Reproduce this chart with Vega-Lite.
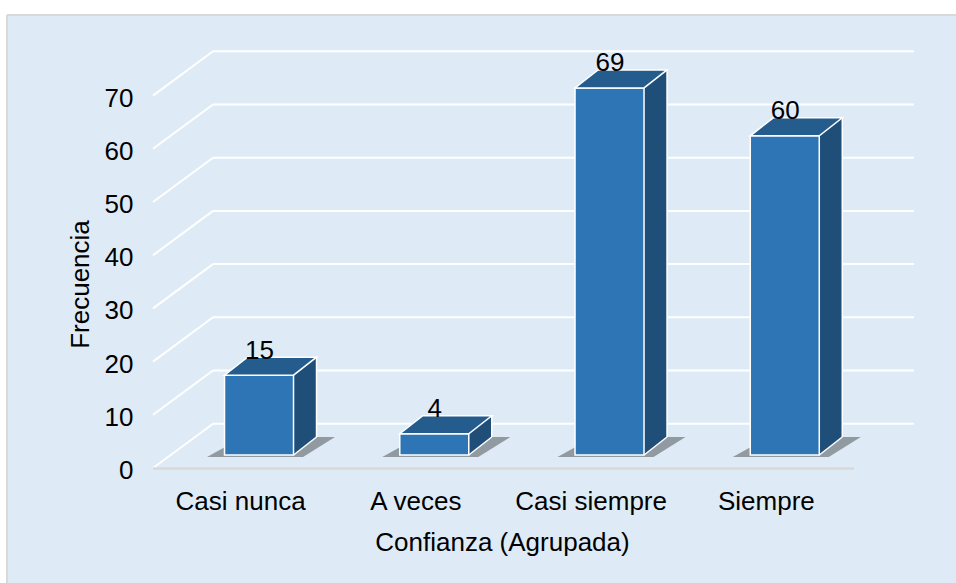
{
  "$schema": "https://vega.github.io/schema/vega-lite/v6.json",
  "width": 949,
  "height": 568,
  "autosize": "none",
  "padding": {"left": 7, "top": 15, "right": 0, "bottom": 0},
  "background": "white",
  "config": {
    "font": "Liberation Sans",
    "view": {"fill": "#DEEBF7", "stroke": "#D9D9D9", "strokeWidth": 2, "strokeDash": [949, 1517, 568, 0]},
    "axisX": {
      "title": "Confianza (Agrupada)", "offset": -74,
      "domain": false, "ticks": false, "tickSize": 0, "grid": false, "labelPadding": 0, "labelAngle": 0,
      "labelBaseline": "alphabetic", "labelFontSize": 26, "labelColor": "#000000", "labelFont": "Liberation Sans",
      "titleFontSize": 26, "titleFontWeight": "normal", "titleColor": "#000000", "titleFont": "Liberation Sans",
      "titleX": 495, "titleY": 41, "titleAlign": "center", "titleBaseline": "alphabetic"
    },
    "axisY": {
      "offset": -126,
      "domain": false, "ticks": false, "tickSize": 0, "grid": false, "labelPadding": 0,
      "labelAlign": "right", "labelBaseline": "alphabetic", "labelOffset": 23.5,
      "labelFontSize": 26, "labelColor": "#000000", "labelFont": "Liberation Sans",
      "titleFontSize": 26, "titleFontWeight": "normal", "titleColor": "#000000", "titleFont": "Liberation Sans",
      "titleX": -45, "titleY": 269, "titleAngle": -90, "titleAlign": "center", "titleBaseline": "alphabetic"
    }
  },
  "datasets": {
    "bars": [
      {"cat": "Casi nunca", "v": 15},
      {"cat": "A veces", "v": 4},
      {"cat": "Casi siempre", "v": 69},
      {"cat": "Siempre", "v": 60}
    ],
    "ticks": [{"t": 0}, {"t": 10}, {"t": 20}, {"t": 30}, {"t": 40}, {"t": 50}, {"t": 60}, {"t": 70}],
    "one": [{}]
  },
  "layer": [
    {
      "data": {"name": "ticks"},
      "mark": {"type": "rule", "color": "white", "strokeWidth": 2, "xOffset": -27.6, "x2Offset": 147.6, "yOffset": -31.3},
      "encoding": {
        "x": {
          "datum": "Casi nunca", "type": "nominal",
          "scale": {"type": "band", "domain": ["Casi nunca", "A veces", "Casi siempre", "Siempre"], "paddingInner": 0, "paddingOuter": 0.70756, "align": 0.5887},
          "axis": {"title": "Confianza (Agrupada)", "orient": "bottom"}
        },
        "x2": {"datum": "Siempre"},
        "y": {
          "field": "t", "type": "quantitative",
          "scale": {"domain": [-24.06, 82.71], "nice": false, "zero": false},
          "axis": {"title": "Frecuencia", "orient": "left", "values": [0, 10, 20, 30, 40, 50, 60, 70]}
        }
      }
    },
    {
      "data": {"name": "ticks"},
      "mark": {"type": "rule", "color": "white", "strokeWidth": 2, "xOffset": -87.6, "x2Offset": -27.6, "yOffset": 13, "y2Offset": -31.3},
      "encoding": {
        "x": {"datum": "Casi nunca", "type": "nominal", "title": "Confianza (Agrupada)"},
        "x2": {"datum": "Casi nunca"},
        "y": {"field": "t", "type": "quantitative", "title": "Frecuencia"},
        "y2": {"field": "t"}
      }
    },
    {
      "data": {"name": "one"},
      "mark": {"type": "rule", "color": "#D9D9D9", "strokeWidth": 2.5, "xOffset": -87.6, "x2Offset": 87.6, "yOffset": 13.5},
      "encoding": {
        "x": {"datum": "Casi nunca", "type": "nominal", "title": "Confianza (Agrupada)"},
        "x2": {"datum": "Siempre"},
        "y": {"datum": 0, "type": "quantitative", "title": "Frecuencia"}
      }
    },
    {
      "data": {"name": "bars"},
      "mark": {"type": "point", "shape": "M-52,2L44,2L76,-18L-16,-18Z", "size": 4, "filled": true, "fill": "#202020", "opacity": 0.4, "strokeWidth": 0, "xOffset": 18.4},
      "encoding": {
        "x": {"field": "cat", "type": "nominal", "title": "Confianza (Agrupada)"},
        "y": {"datum": 0, "type": "quantitative", "title": "Frecuencia"}
      }
    },
    {
      "data": {"name": "bars"},
      "mark": {"type": "bar", "width": 23, "xOffset": 64.4, "yOffset": -18, "y2Offset": -18, "color": "#1F4E79"},
      "encoding": {
        "x": {"field": "cat", "type": "nominal", "title": "Confianza (Agrupada)"},
        "y": {"field": "v", "type": "quantitative", "title": "Frecuencia"}
      }
    },
    {
      "data": {"name": "bars"},
      "mark": {"type": "point", "shape": "M0,0L0,-18L23,-18Z", "size": 4, "filled": true, "fill": "#1F4E79", "opacity": 1, "strokeWidth": 0, "xOffset": 52.9},
      "encoding": {
        "x": {"field": "cat", "type": "nominal", "title": "Confianza (Agrupada)"},
        "y": {"datum": 0, "type": "quantitative", "title": "Frecuencia"}
      }
    },
    {
      "data": {"name": "bars"},
      "mark": {"type": "bar", "width": 69, "xOffset": 18.4, "color": "#2E75B6", "stroke": "white", "strokeWidth": 1.5},
      "encoding": {
        "x": {"field": "cat", "type": "nominal", "title": "Confianza (Agrupada)"},
        "y": {"field": "v", "type": "quantitative", "title": "Frecuencia"}
      }
    },
    {
      "data": {"name": "bars"},
      "mark": {"type": "point", "shape": "M-34.5,0L34.5,0L57.5,-18L-11.5,-18Z", "size": 4, "filled": true, "fill": "#245C8E", "stroke": "white", "strokeWidth": 1.5, "opacity": 1, "xOffset": 18.4},
      "encoding": {
        "x": {"field": "cat", "type": "nominal", "title": "Confianza (Agrupada)"},
        "y": {"field": "v", "type": "quantitative", "title": "Frecuencia"}
      }
    },
    {
      "data": {"name": "bars"},
      "mark": {"type": "rule", "color": "white", "strokeWidth": 1.5, "xOffset": 75.9, "yOffset": -18, "y2Offset": -18},
      "encoding": {
        "x": {"field": "cat", "type": "nominal", "title": "Confianza (Agrupada)"},
        "y": {"field": "v", "type": "quantitative", "title": "Frecuencia"},
        "y2": {"datum": 0}
      }
    },
    {
      "data": {"name": "bars"},
      "mark": {"type": "point", "shape": "M0,0L23,-18", "size": 4, "filled": false, "stroke": "white", "strokeWidth": 1.5, "opacity": 1, "xOffset": 52.9},
      "encoding": {
        "x": {"field": "cat", "type": "nominal", "title": "Confianza (Agrupada)"},
        "y": {"datum": 0, "type": "quantitative", "title": "Frecuencia"}
      }
    },
    {
      "data": {"name": "bars"},
      "mark": {"type": "text", "fontSize": 26, "font": "Liberation Sans", "color": "#000000", "baseline": "alphabetic", "align": "center", "xOffset": 18.8, "yOffset": -16.5},
      "encoding": {
        "x": {"field": "cat", "type": "nominal", "title": "Confianza (Agrupada)"},
        "y": {"field": "v", "type": "quantitative", "title": "Frecuencia"},
        "text": {"field": "v", "type": "quantitative"}
      }
    }
  ]
}
